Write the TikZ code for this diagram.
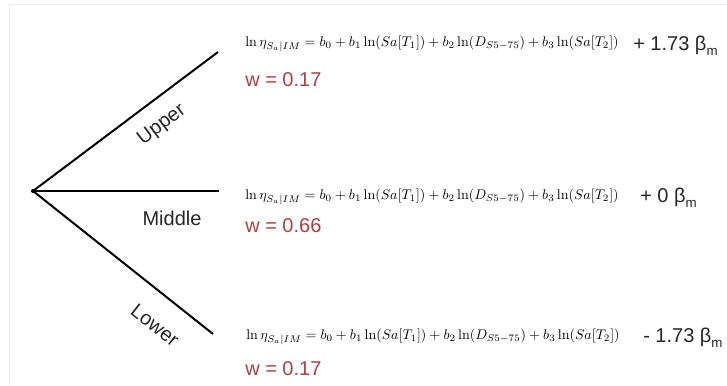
\documentclass[tikz,border=0pt]{standalone}
\usepackage{graphicx}
\usepackage[no-math]{fontspec}
\newfontfamily\arialf{Liberation Sans}
\definecolor{wred}{RGB}{176,62,62}
\definecolor{frame}{RGB}{236,236,236}
\begin{document}
\begin{tikzpicture}[x=0.75pt,y=-0.75pt,
  branch/.style={line width=1.5pt, black},
  lbl/.style={font=\arialf\fontsize{15}{18}\selectfont, inner sep=0pt, text=black!85},
  wt/.style={lbl, text=wred, anchor=west},
  eq/.style={anchor=west, inner sep=0pt},
  bterm/.style={lbl, anchor=west}]
\useasboundingbox (0,0) rectangle (727,385);
\draw[frame, line width=0.75pt] (9,385) -- (9,5) -- (727,5);
\coordinate (root) at (33,191);
\coordinate (up) at (218,52);
\coordinate (mid) at (219,191);
\coordinate (low) at (213,334);
\fill (root) circle (2);
\draw[branch] (root) -- (up);
\draw[branch] (root) -- (mid);
\draw[branch] (root) -- (low);
\node[lbl, rotate=37] (lup) at (162,125) {Upper};
\node[lbl] (lmid) at (172,218) {Middle};
\node[lbl, rotate=-38] (llow) at (155,325) {Lower};
\newcommand{\gmpeq}{\resizebox{280pt}{!}{$\ln\eta_{S_a|IM}=b_0+b_1\ln(Sa[T_1])+b_2\ln(D_{S5-75})+b_3\ln(Sa[T_2])$}}
\node[eq] (eq1) at (245,44) {\gmpeq};
\node[eq] (eq2) at (245,197) {\gmpeq};
\node[eq] (eq3) at (246,337) {\gmpeq};
\node[bterm] (b1) at (633,46) {+ 1.73 β\raisebox{-3.5pt}{\fontsize{10}{12}\selectfont m}};
\node[bterm] (b2) at (640,198) {+ 0 β\raisebox{-3.5pt}{\fontsize{10}{12}\selectfont m}};
\node[bterm] (b3) at (643,338) {- 1.73 β\raisebox{-3.5pt}{\fontsize{10}{12}\selectfont m}};
\node[wt] (w1) at (245,80) {w = 0.17};
\node[wt] (w2) at (245,226) {w = 0.66};
\node[wt] (w3) at (245,369) {w = 0.17};
\end{tikzpicture}
\end{document}
